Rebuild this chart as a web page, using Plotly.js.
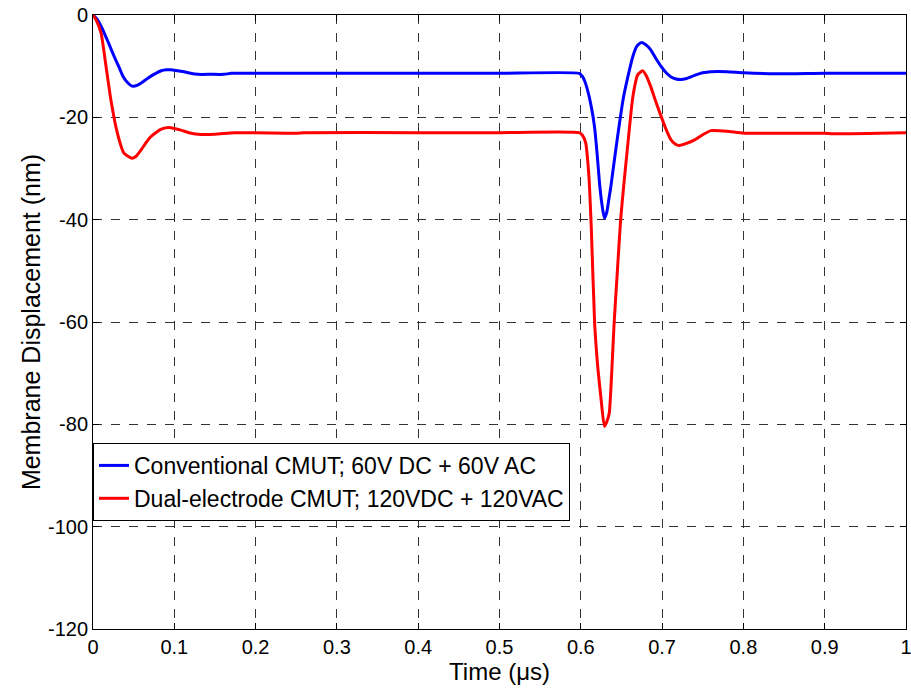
<!DOCTYPE html>
<html><head><meta charset="utf-8">
<script src="https://cdn.plot.ly/plotly-3.0.1.min.js"></script>
<style>html,body{margin:0;padding:0;background:#fff}#chart{width:911px;height:688px}</style>
</head><body><div id="chart"></div>
<script>
const convT = [0,0.005,0.010,0.014,0.020,0.026,0.032,0.037,0.043,0.048,0.055,0.061,0.067,0.075,0.084,0.090,0.096,0.104,0.112,0.120,0.129,0.145,0.161,0.170,0.20,0.3,0.4,0.5,0.598,0.602,0.605,0.608,0.613,0.617,0.620,0.623,0.626,0.629,0.632,0.635,0.637,0.642,0.647,0.652,0.658,0.664,0.669,0.674,0.680,0.686,0.692,0.699,0.705,0.711,0.717,0.723,0.730,0.740,0.750,0.760,0.780,0.800,0.84,0.9,1.0];
const convY = [0,-0.8,-2.2,-3.6,-5.8,-8.1,-10.2,-12.0,-13.3,-13.9,-13.7,-13.1,-12.4,-11.6,-10.9,-10.7,-10.7,-10.9,-11.1,-11.4,-11.6,-11.6,-11.6,-11.4,-11.4,-11.4,-11.4,-11.4,-11.4,-12.0,-13.0,-14.5,-18,-22,-27,-32.8,-37,-39.7,-38.5,-35.5,-33.5,-27.5,-21.8,-16.5,-12.0,-8.1,-6.1,-5.4,-5.8,-6.8,-8.4,-10.1,-11.3,-12.1,-12.5,-12.6,-12.4,-11.8,-11.3,-11.1,-11.1,-11.3,-11.5,-11.4,-11.4];
const dualT = [0,0.004,0.010,0.016,0.022,0.030,0.038,0.048,0.053,0.059,0.065,0.071,0.078,0.084,0.094,0.108,0.118,0.129,0.15,0.174,0.25,0.26,0.4,0.5,0.598,0.602,0.606,0.610,0.613,0.617,0.621,0.625,0.629,0.632,0.635,0.638,0.641,0.645,0.649,0.653,0.658,0.664,0.670,0.676,0.681,0.686,0.692,0.699,0.705,0.711,0.716,0.721,0.730,0.740,0.750,0.760,0.780,0.801,0.9,0.91,1.0];
const dualY = [0,-1.0,-3.6,-10.0,-16.6,-23.1,-27.0,-28.0,-27.6,-26.4,-25.0,-23.8,-22.9,-22.3,-22.0,-22.5,-23.0,-23.3,-23.3,-23.0,-23.1,-23.0,-23.0,-23.0,-23.0,-23.5,-25.0,-31.6,-42,-60.2,-69,-75.2,-80.4,-79.5,-77.8,-70,-60.2,-50,-40.0,-33,-25.0,-16.0,-11.7,-10.9,-12.0,-14.0,-16.8,-19.9,-22.4,-24.4,-25.2,-25.5,-25.1,-24.4,-23.4,-22.6,-22.7,-23.1,-23.1,-23.2,-23.0];
const seriesNames = ["Conventional CMUT; 60V DC + 60V AC","Dual-electrode CMUT; 120VDC + 120VAC"];
const xTickVals = [0,0.1,0.2,0.3,0.4,0.5,0.6,0.7,0.8,0.9,1];
const xTickText = ["0","0.1","0.2","0.3","0.4","0.5","0.6","0.7","0.8","0.9","1"];
const yTickVals = [0,-20,-40,-60,-80,-100,-120];
const yTickText = ["0","-20","-40","-60","-80","-100","-120"];

const font = "Liberation Sans, Arial, Helvetica, sans-serif";
const traces = [
  {x: convT, y: convY, name: seriesNames[0], mode: "lines", line: {color: "#0000ff", width: 3, shape: "spline", smoothing: 0.5}},
  {x: dualT, y: dualY, name: seriesNames[1], mode: "lines", line: {color: "#ff0000", width: 3, shape: "spline", smoothing: 0.5}}
];
const axisCommon = {
  showline: true, mirror: "ticks", linecolor: "#000", linewidth: 1,
  ticks: "inside", ticklen: 6, tickcolor: "#000",
  showgrid: true, gridcolor: "#333", griddash: "dash", gridwidth: 1,
  zeroline: false, ticklabeloverflow: "allow", tickfont: {family: font, size: 20, color: "#000"}
};
const layout = {
  width: 911, height: 688,
  margin: {l: 93, r: 5, t: 15, b: 59},
  paper_bgcolor: "#fff", plot_bgcolor: "#fff",
  showlegend: true,
  legend: {x: 0.0, y: 0.303, xanchor: "left", yanchor: "top", bgcolor: "#fff", bordercolor: "#000", borderwidth: 1,
    font: {family: font, size: 23, color: "#000"}, tracegroupgap: 0},
  xaxis: Object.assign({}, axisCommon, {range: [0, 1], tickvals: xTickVals, ticktext: xTickText,
    title: {text: "Time (μs)", font: {family: font, size: 24, color: "#000"}, standoff: 0}}),
  yaxis: Object.assign({}, axisCommon, {range: [-120, 0], tickvals: yTickVals, ticktext: yTickText,
    title: {text: "Membrane Displacement (nm)", font: {family: font, size: 25, color: "#000"}, standoff: 0}})
};
Plotly.newPlot("chart", traces, layout, {displayModeBar: false, staticPlot: true});
</script></body></html>
